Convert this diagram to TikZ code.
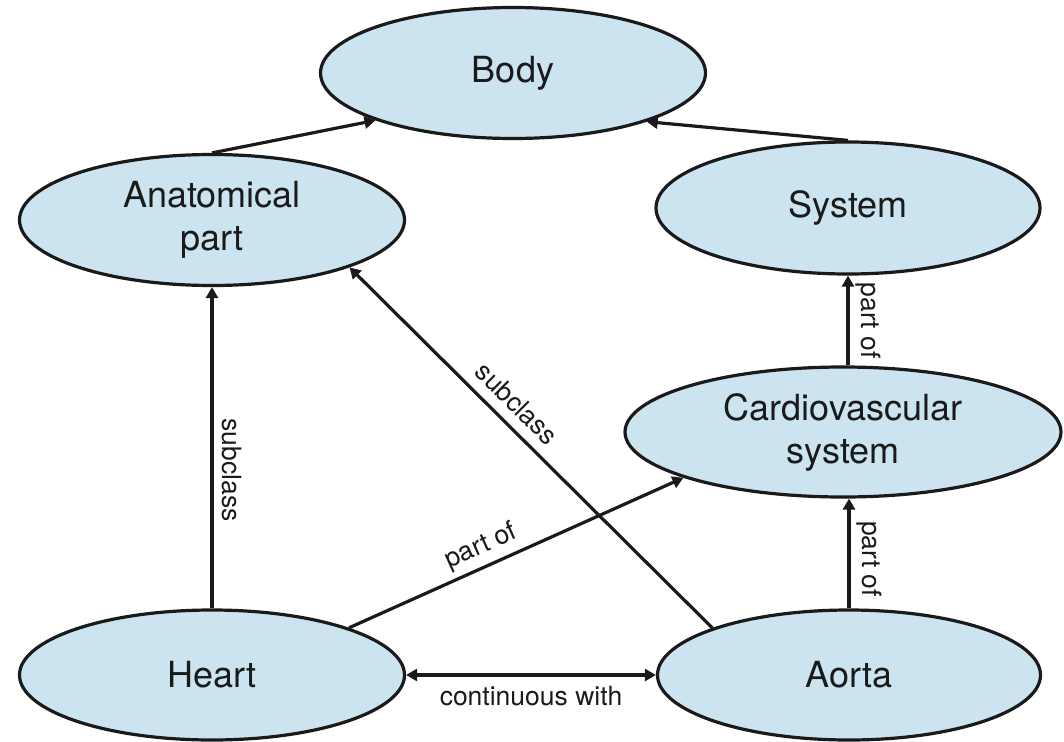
\documentclass[tikz,border=0pt]{standalone}
\usepackage{fontspec}
\setmainfont{TeX Gyre Heros}
\usetikzlibrary{shapes.geometric,arrows.meta}
\definecolor{nodefill}{RGB}{204,228,240}
\definecolor{inkc}{RGB}{26,26,26}
\tikzset{
  concept/.style={ellipse, draw=inkc, line width=3.2pt, fill=nodefill, inner sep=0pt,
    align=center, font=\fontsize{36}{43}\selectfont, text=inkc},
  rel/.style={draw=inkc, line width=3.2pt, -{Triangle[length=11pt,width=12pt]}},
  birel/.style={draw=inkc, line width=3.2pt, {Triangle[length=11pt,width=12pt]}-{Triangle[length=11pt,width=12pt]}},
  lbl/.style={font=\fontsize{26.5}{31}\selectfont, text=inkc, inner sep=8pt}
}
\begin{document}
\begin{tikzpicture}[x=1pt,y=-1pt]
\useasboundingbox (0,0) rectangle (1064,741);
\node[concept, minimum width=385pt, minimum height=131pt] (body) at (513,73) {Body};
\node[concept, minimum width=385pt, minimum height=131pt] (anat) at (212,220) {Anatomical\\part};
\node[concept, minimum width=384pt, minimum height=132pt] (sys) at (848,208) {System};
\node[concept, minimum width=436pt, minimum height=130pt] (cardio) at (843,432) {Cardiovascular\\system};
\node[concept, minimum width=385pt, minimum height=130pt] (heart) at (212,675) {Heart};
\node[concept, minimum width=383pt, minimum height=130pt] (aorta) at (849,675) {Aorta};

\draw[rel] (anat.north) -- (body.199);
\draw[rel] (sys.north) -- (body.340);
\draw[rel] (heart.north) -- node[lbl, pos=0.43, anchor=south, rotate=-90] {subclass} (anat.south);
\draw[rel] (aorta.161) -- node[lbl, pos=0.58, sloped, above, inner sep=10pt] {subclass} (anat.341);
\draw[rel] (heart.19) -- node[lbl, pos=0.42, sloped, above, inner sep=6pt] {part of} (cardio.196.5);
\draw[rel] (cardio.north -| sys.south) -- node[lbl, midway, anchor=south, rotate=-90, inner sep=6pt] {part of} (sys.south);
\draw[rel] (aorta.north) -- node[lbl, pos=0.45, anchor=south, rotate=-90, inner sep=6pt] {part of} (aorta.north |- cardio.south);
\draw[birel] (heart.east) -- node[lbl, midway, below, inner sep=10pt] {continuous with} (aorta.west);
\end{tikzpicture}
\end{document}
